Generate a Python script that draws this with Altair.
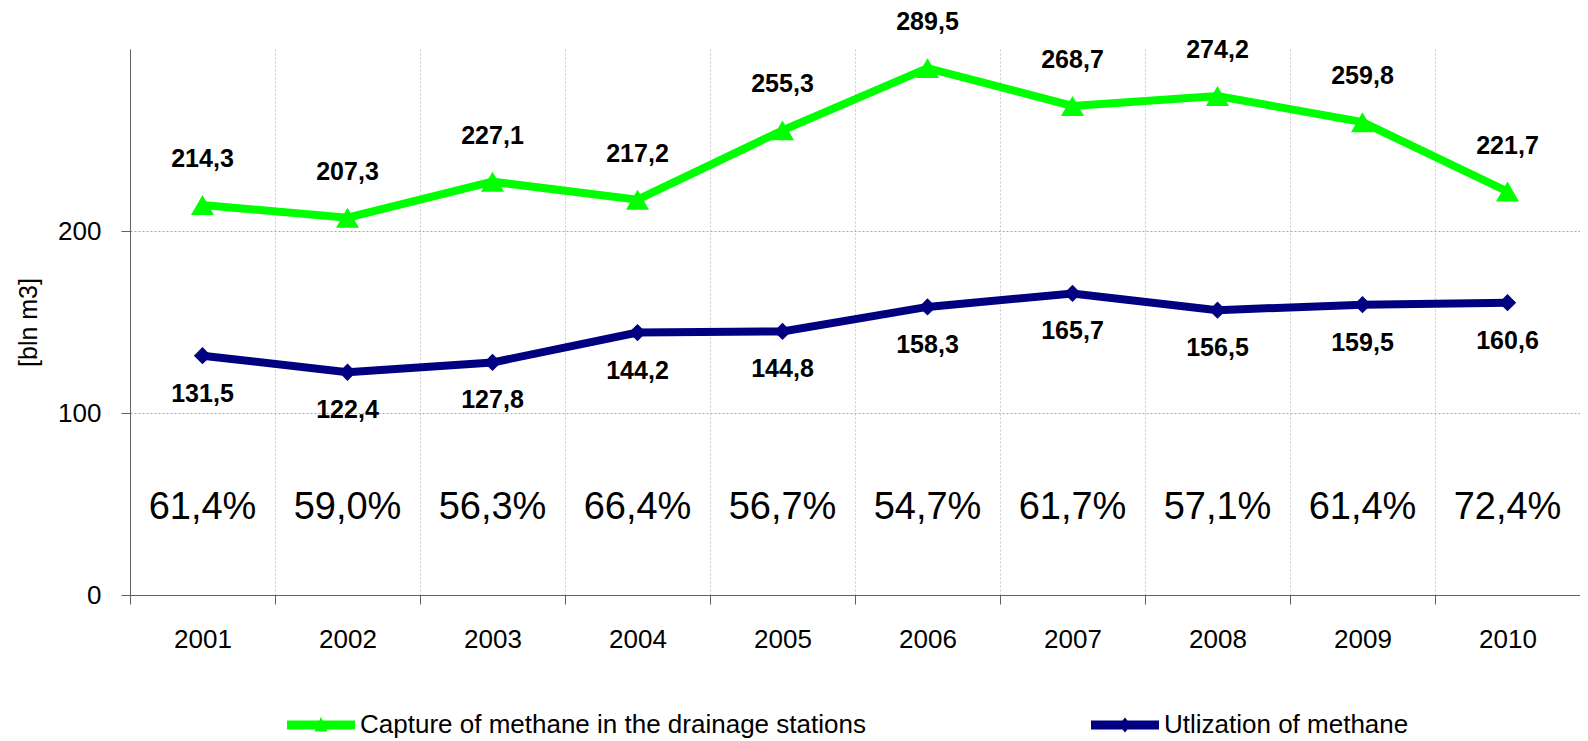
import altair as alt
import pandas as pd

years = ["2001", "2002", "2003", "2004", "2005", "2006", "2007", "2008", "2009", "2010"]
capture = [214.3, 207.3, 227.1, 217.2, 255.3, 289.5, 268.7, 274.2, 259.8, 221.7]
utilization = [131.5, 122.4, 127.8, 144.2, 144.8, 158.3, 165.7, 156.5, 159.5, 160.6]
shares = [61.4, 59.0, 56.3, 66.4, 56.7, 54.7, 61.7, 57.1, 61.4, 72.4]
series_names = ["Capture of methane in the drainage stations", "Utlization of methane"]
colors = ["#00FF00", "#000080"]


def fmt(v):
    return f"{v:.1f}".replace(".", ",")


rows = []
for name, vals in zip(series_names, [capture, utilization]):
    for yr, v in zip(years, vals):
        rows.append({"year": yr, "series": name, "value": v, "label": fmt(v)})
df = pd.DataFrame(rows)
share_df = pd.DataFrame({"year": years, "share": [fmt(s) + "%" for s in shares]})

FONT = "Liberation Sans"
AXIS_COL = "#606060"

x_enc = alt.X(
    "year:N",
    title=None,
    bandPosition=0.5,
    scale=alt.Scale(type="band", paddingInner=0, paddingOuter=0, domain=years),
    axis=alt.Axis(
        tickBand="extent", labelAngle=0, labelFontSize=26, labelPadding=22,
        tickSize=9, grid=True, gridDash=[2, 2], gridColor="#c8c8c8",
        domainColor=AXIS_COL, tickColor=AXIS_COL, labelColor="black",
    ),
)
y_enc = alt.Y(
    "value:Q",
    scale=alt.Scale(domain=[0, 300], nice=False),
    axis=alt.Axis(
        values=[0, 100, 200], title="[bln m3]", titleFontSize=25,
        titleFontWeight="normal", titlePadding=16, titleColor="black",
        labelFontSize=26, labelPadding=20, tickSize=9, grid=True,
        gridDash=[2, 2], gridColor="#a6a6a6", domainColor=AXIS_COL,
        tickColor=AXIS_COL, labelColor="black",
    ),
)
color_scale = alt.Scale(domain=series_names, range=colors)

base = alt.Chart(df).encode(x=x_enc, y=y_enc)
green = base.transform_filter(alt.datum.series == series_names[0])
blue = base.transform_filter(alt.datum.series == series_names[1])

green_line = green.mark_line(strokeWidth=8, color=colors[0])
blue_line = blue.mark_line(strokeWidth=8, color=colors[1])
green_pts = green.mark_point(
    filled=True, shape="triangle-up", size=530, opacity=1, color=colors[0]
)
blue_pts = blue.mark_point(
    filled=True, shape="diamond", size=300, opacity=1, color=colors[1]
)
green_lbl = green.mark_text(
    dy=-46, fontSize=25, fontWeight="bold", color="black"
).encode(text="label:N")
blue_lbl = blue.mark_text(
    dy=38, fontSize=25, fontWeight="bold", color="black"
).encode(text="label:N")

share_text = alt.Chart(share_df).mark_text(
    fontSize=38, color="black", baseline="middle"
).encode(x=alt.X("year:N", bandPosition=0.5), y=alt.value(459), text="share:N")

path_green = "M-1,-0.13L1,-0.13L1,0.13L-1,0.13Z M0,-0.24L0.19,0.19L-0.19,0.19Z"
path_blue = "M-1,-0.13L1,-0.13L1,0.13L-1,0.13Z M0,-0.22L0.18,0L0,0.22L-0.18,0Z"

legend_layer = alt.Chart(df).transform_filter("false").mark_point(
    filled=True, opacity=1
).encode(
    x=alt.X("year:N", bandPosition=0.5),
    y="value:Q",
    color=alt.Color("series:N", scale=color_scale, title=None),
    shape=alt.Shape("series:N", scale=alt.Scale(domain=series_names, range=[path_green, path_blue]), title=None),
)

chart = alt.layer(
    green_line, blue_line, green_pts, blue_pts, green_lbl, blue_lbl, share_text, legend_layer
).properties(
    width=1450,
    height=546,
    autosize=alt.AutoSizeParams(type="none"),
    padding={"left": 122, "top": 41, "right": 0, "bottom": 146},
    background="white",
).configure(font=FONT).configure_view(stroke=None).configure_legend(
    orient="none", legendX=157, legendY=642, direction="horizontal", columns=2,
    labelFontSize=26, labelColor="black", labelLimit=1000, symbolSize=4624,
    symbolStrokeWidth=0, columnPadding=225, labelOffset=5, padding=0,
)

chart.save("out.html", embed_options={"renderer": "svg", "actions": False})
